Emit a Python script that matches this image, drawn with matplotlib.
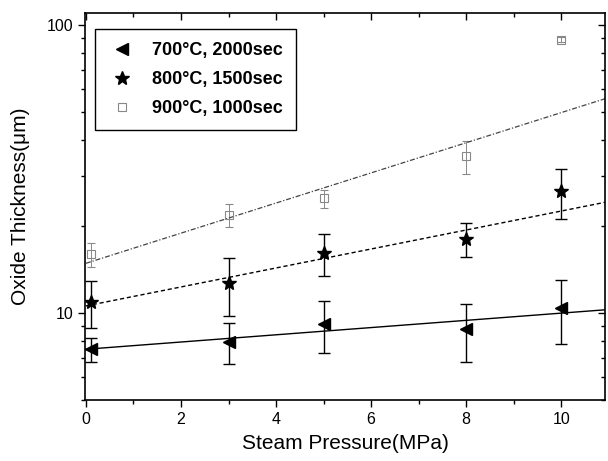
import matplotlib
matplotlib.use("Agg")
import matplotlib.pyplot as plt
from matplotlib.ticker import FixedLocator, LogLocator, NullFormatter, FixedFormatter

plt.rcParams["font.family"] = ["Liberation Sans", "DejaVu Sans"]

# data
pressure = [0.1, 3, 5, 8, 10]

t700 = [7.5, 7.95, 9.15, 8.8, 10.4]
e700 = [0.7, 1.3, 1.9, 2.0, 2.6]

t800 = [10.9, 12.7, 16.2, 18.1, 26.5]
e800 = [2.0, 2.9, 2.7, 2.4, 5.2]

t900 = [16.0, 21.9, 25.0, 35.0, 89.0]
e900 = [1.5, 2.0, 1.8, 4.5, 1.5]

fit_x = [0, 11]
fit700 = [7.5, 10.3]
fit800 = [10.6, 24.4]
fit900 = [14.9, 56.0]

labels = ["700°C, 2000sec", "800°C, 1500sec", "900°C, 1000sec"]

fig = plt.figure(figsize=(6.08, 4.61), dpi=100)
ax = fig.add_axes([85/608, 61/461, 520/608, 387/461])

h1 = ax.errorbar(pressure, t700, yerr=e700, fmt="<", color="black", ms=8,
                 elinewidth=1, capsize=4, capthick=1)
h2 = ax.errorbar(pressure, t800, yerr=e800, fmt="*", color="black", ms=10,
                 elinewidth=1, capsize=4, capthick=1)
h3 = ax.errorbar(pressure, t900, yerr=e900, fmt="s", color="#999999", mfc="none",
                 mec="#888888", ms=6, mew=0.8, elinewidth=0.7, ecolor="#888888",
                 capsize=3, capthick=0.7)

ax.plot(fit_x, fit700, color="black", lw=1)
ax.plot(fit_x, fit800, color="black", lw=1, dashes=(3, 2))
ax.plot(fit_x, fit900, color="#444444", lw=0.9, dashes=(4, 1.5, 1, 1.5))

ax.set_yscale("log")
ax.set_ylim(5, 110)
ax.set_xlim(-0.02, 10.92)

ax.xaxis.set_major_locator(FixedLocator([0, 2, 4, 6, 8, 10]))
ax.xaxis.set_minor_locator(FixedLocator([1, 3, 5, 7, 9]))
ax.yaxis.set_major_locator(FixedLocator([10, 100]))
ax.yaxis.set_major_formatter(FixedFormatter(["10", "100"]))
ax.yaxis.set_minor_locator(LogLocator(base=10, subs=range(2, 10)))
ax.yaxis.set_minor_formatter(NullFormatter())

ax.tick_params(axis="both", which="major", labelsize=11.5, length=5, width=1,
               direction="out")
ax.tick_params(axis="both", which="minor", length=3, width=1, direction="out")
ax.tick_params(top=True, right=True, which="both")
for t in ax.xaxis.get_major_ticks() + ax.xaxis.get_minor_ticks():
    t.tick2line.set_marker(3)
for t in ax.yaxis.get_major_ticks() + ax.yaxis.get_minor_ticks():
    t.tick2line.set_marker(0)

for s in ax.spines.values():
    s.set_linewidth(1.2)

ax.set_xlabel("Steam Pressure(MPa)", fontsize=15, labelpad=5)
ax.set_ylabel("Oxide Thickness(μm)", fontsize=15, labelpad=12)

leg = ax.legend([h1[0], h2[0], h3[0]], labels, loc="upper left",
                bbox_to_anchor=(0.019, 0.959), fancybox=False, edgecolor="black",
                framealpha=1, prop={"weight": "bold", "size": 13},
                handlelength=1.5, handletextpad=0.9, borderpad=0.75,
                labelspacing=0.65, borderaxespad=0)
leg.get_frame().set_linewidth(1)

fig.savefig("out.png", dpi=100)
